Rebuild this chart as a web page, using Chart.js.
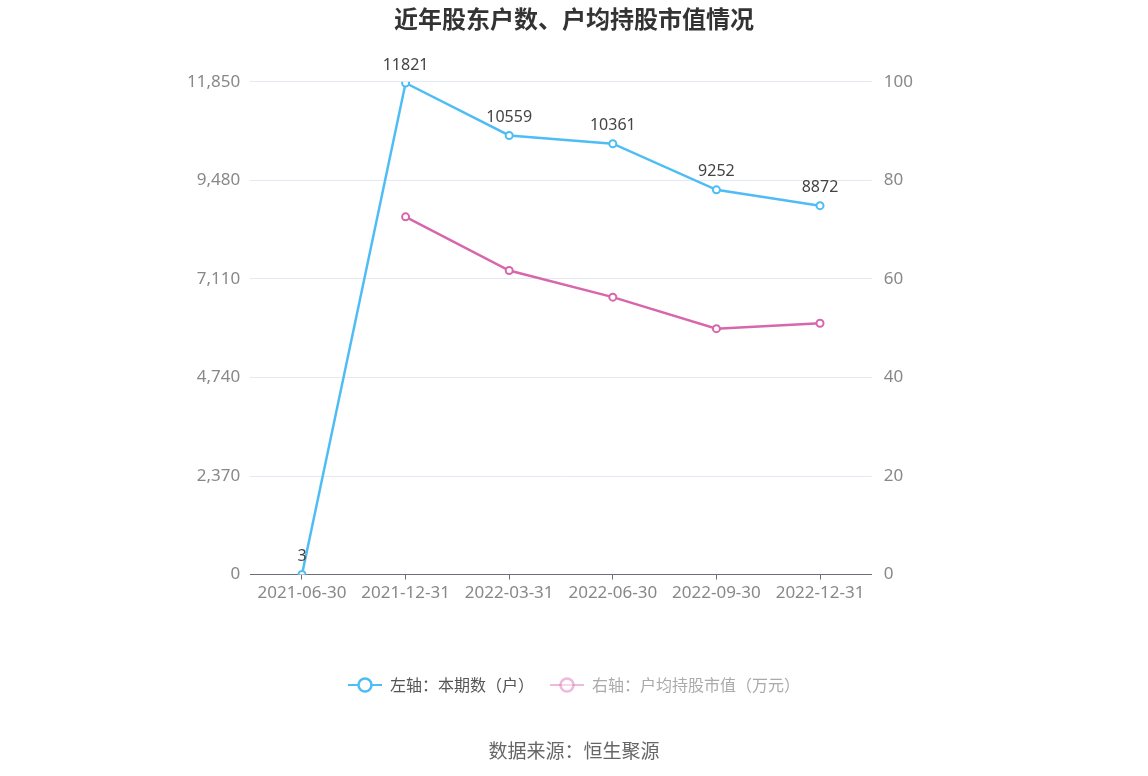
<!DOCTYPE html>
<html lang="zh">
<head>
  <meta charset="UTF-8" />
  <title>近年股东户数、户均持股市值情况</title>
  <script src="https://cdn.jsdelivr.net/npm/chart.js"></script>
  <style>
    html, body { margin: 0; padding: 0; background: #fff; }
    .wrap { position: relative; width: 1148px; height: 776px; }
    .source {
      position: absolute; left: 0; width: 1148px; top: 736px;
      text-align: center; font: 19px "Noto Sans CJK SC", sans-serif; color: #666;
    }
  </style>
</head>
<body>
  <div class="wrap">
    <canvas id="holdersChart" width="1148" height="776"></canvas>
    <div class="source">数据来源：恒生聚源</div>
  </div>

  <script>
    const FONT = '"Noto Sans", "Noto Sans CJK SC", sans-serif';
    const CJK = '"Noto Sans CJK SC", sans-serif';

    const periods = ['2021-06-30', '2021-12-31', '2022-03-31', '2022-06-30', '2022-09-30', '2022-12-31'];
    const holders = [3, 11821, 10559, 10361, 9252, 8872];
    const avgValue = [null, 72.6, 61.7, 56.3, 49.9, 51.0];
    const leftTicks = [0, 2370, 4740, 7110, 9480, 11850];
    const rightTicks = [0, 20, 40, 60, 80, 100];

    const blue = '#4fbdf5';
    const pink = '#d866ad';

    // little legend icon: line with hollow circle
    function legendIcon(color, alpha) {
      const c = document.createElement('canvas');
      c.width = 34; c.height = 18;
      const g = c.getContext('2d');
      g.globalAlpha = alpha;
      g.strokeStyle = color;
      g.lineWidth = 2;
      g.beginPath(); g.moveTo(0, 9); g.lineTo(34, 9); g.stroke();
      g.fillStyle = '#fff';
      g.lineWidth = 2.5;
      g.beginPath(); g.arc(17, 9, 6.5, 0, Math.PI * 2); g.fill(); g.stroke();
      return c;
    }

    // values above the blue points
    const pointLabels = {
      id: 'pointLabels',
      afterDatasetsDraw(chart) {
        const ctx = chart.ctx;
        const meta = chart.getDatasetMeta(0);
        ctx.save();
        ctx.font = '16px ' + FONT;
        ctx.fillStyle = '#444';
        ctx.textAlign = 'center';
        ctx.textBaseline = 'bottom';
        meta.data.forEach((pt, i) => {
          ctx.fillText(String(holders[i]), pt.x, pt.y - 10);
        });
        ctx.restore();
      }
    };

    // title and legend are centred on the whole canvas, not the plot
    const centerBlocks = {
      id: 'centerBlocks',
      afterLayout(chart) {
        [chart.titleBlock, chart.legend].forEach(b => {
          if (!b) return;
          b.left = 0;
          b.right = chart.width;
        });
      }
    };

    new Chart(document.getElementById('holdersChart'), {
      type: 'line',
      data: {
        labels: periods,
        datasets: [{
          label: '左轴：本期数（户）',
          data: holders,
          yAxisID: 'y',
          borderColor: blue,
          backgroundColor: '#fff',
          borderWidth: 2.5,
          pointRadius: 3.5,
          pointBorderWidth: 2,
          pointBackgroundColor: '#fff',
          pointBorderColor: blue,
          tension: 0
        }, {
          label: '右轴：户均持股市值（万元）',
          data: avgValue,
          yAxisID: 'y1',
          borderColor: pink,
          backgroundColor: '#fff',
          borderWidth: 2.5,
          pointRadius: 3.5,
          pointBorderWidth: 2,
          pointBackgroundColor: '#fff',
          pointBorderColor: pink,
          tension: 0
        }]
      },
      options: {
        responsive: false,
        animation: false,
        layout: { padding: { left: 177, right: 231, top: 4, bottom: 73 } },
        plugins: {
          title: {
            display: true,
            text: '近年股东户数、户均持股市值情况',
            color: '#333',
            font: { family: CJK, size: 24, weight: 'bold' },
            padding: { top: 0, bottom: 49 }
          },
          legend: {
            position: 'bottom',
            labels: {
              usePointStyle: true,
              pointStyleWidth: 34,
              padding: 16,
              font: { family: CJK, size: 16 },
              generateLabels(chart) {
                return chart.data.datasets.map((ds, i) => ({
                  text: ds.label,
                  datasetIndex: i,
                  pointStyle: legendIcon(ds.borderColor, i === 0 ? 1 : 0.45),
                  fontColor: i === 0 ? '#555' : '#aaa',
                  lineWidth: 0,
                  strokeStyle: 'transparent',
                  fillStyle: 'transparent',
                  hidden: false
                }));
              }
            }
          },
          tooltip: { enabled: false }
        },
        scales: {
          x: {
            offset: true,
            afterFit(scale) { scale.height += 55; },
            grid: { display: true, drawOnChartArea: false, offset: false, tickLength: 5, color: '#6e7079' },
            border: { display: true, color: '#6e7079', width: 1 },
            ticks: { color: '#888', font: { family: FONT, size: 17 }, padding: 3 }
          },
          y: {
            position: 'left',
            min: 0,
            max: 11850,
            afterBuildTicks(axis) { axis.ticks = leftTicks.map(v => ({ value: v })); },
            grid: { color: '#e3e8f2', drawTicks: false },
            border: { display: false },
            ticks: { color: '#888', font: { family: FONT, size: 17 }, padding: 10 }
          },
          y1: {
            position: 'right',
            min: 0,
            max: 100,
            afterBuildTicks(axis) { axis.ticks = rightTicks.map(v => ({ value: v })); },
            grid: { display: false },
            border: { display: false },
            ticks: { color: '#888', font: { family: FONT, size: 17 }, padding: 4 }
          }
        }
      },
      plugins: [pointLabels, centerBlocks]
    });
  </script>
</body>
</html>
